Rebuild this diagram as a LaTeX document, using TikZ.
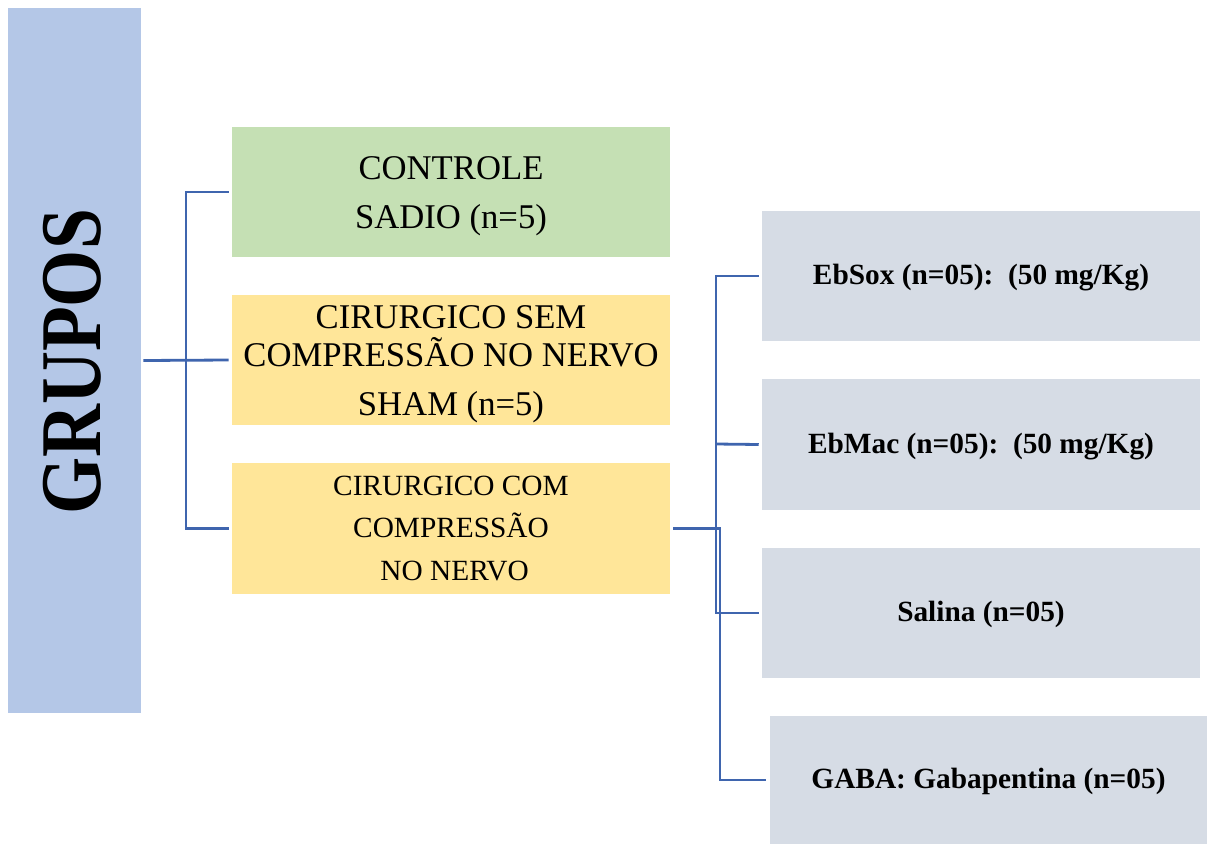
\documentclass[tikz,border=0pt]{standalone}
\usepackage{fontspec}
\setmainfont{Liberation Serif}
\definecolor{gblue}{HTML}{B4C7E7}
\definecolor{ggreen}{HTML}{C5E0B4}
\definecolor{gyellow}{HTML}{FFE699}
\definecolor{ggray}{HTML}{D6DCE5}
\definecolor{lineblue}{HTML}{3F65AE}
\newcommand{\topstrut}[1]{\rule{0pt}{#1}}
\begin{document}
\begin{tikzpicture}[x=0.75pt,y=-0.75pt,
  box/.style={rectangle, draw=none, inner sep=0pt, align=center, minimum width=328.5pt, minimum height=97.5pt},
  big/.style={font=\fontsize{26}{36.75}\selectfont},
  mid/.style={font=\fontsize{22}{32}\selectfont},
  bold/.style={font=\fontsize{22}{26}\selectfont\bfseries},
  conn/.style={draw=lineblue, line width=2.1pt}]
\useasboundingbox (0,0) rectangle (1207,843);
\fill[white] (0,0) rectangle (1207,843);

\node[box, fill=gblue, minimum width=99.75pt, minimum height=528.75pt] (grupos) at (74.5,360.5) {};
\node[rotate=90, font=\fontsize{55}{60}\selectfont\bfseries] (gtext) at (72,362) {\scalebox{1}[1.18]{GRUPOS}};

\node[box, fill=ggreen, big] (ctrl) at (451,192) {\topstrut{24pt}CONTROLE\\SADIO (n=5)};
\node[box, fill=gyellow, font=\fontsize{26}{28.5}\selectfont] (sham) at (451,360) {\topstrut{24pt}CIRURGICO SEM\\COMPRESSÃO NO NERVO\\[8.25pt]SHAM (n=5)};
\node[box, fill=gyellow, mid, minimum height=98.25pt] (comp) at (451,528.5) {CIRURGICO COM\\COMPRESSÃO\\\ NO NERVO};

\node[box, fill=ggray, bold] (ebsox) at (981,276) {\topstrut{18pt}EbSox (n=05):\ \ (50 mg/Kg)};
\node[box, fill=ggray, bold, minimum height=98.25pt] (ebmac) at (981,444.5) {\topstrut{18pt}EbMac (n=05):\ \ (50 mg/Kg)};
\node[box, fill=ggray, bold] (salina) at (981,613) {\topstrut{18pt}Salina (n=05)};
\node[box, fill=ggray, bold, minimum width=327.75pt, minimum height=96pt] (gaba) at (988.5,780) {\topstrut{18pt}GABA: Gabapentina (n=05)};

\coordinate (v1) at (186,360);
\coordinate (v2) at (716,444);
\coordinate (v3) at (720,600);

\draw[conn] ([xshift=-2.25pt]ctrl.west) -| (v1) |- ([xshift=-2.25pt]comp.west);
\draw[conn] ([xshift=1.5pt]grupos.east) -- ([xshift=-2.25pt]sham.west);

\draw[conn] ([xshift=-2.25pt]ebsox.west) -| (v2) |- ([xshift=-2.25pt]salina.west);
\draw[conn] (v2) -- ([xshift=-2.25pt]ebmac.west);
\draw[conn] ([xshift=2.25pt]comp.east) -| (v3) |- ([xshift=-3pt]gaba.west);
\end{tikzpicture}
\end{document}
